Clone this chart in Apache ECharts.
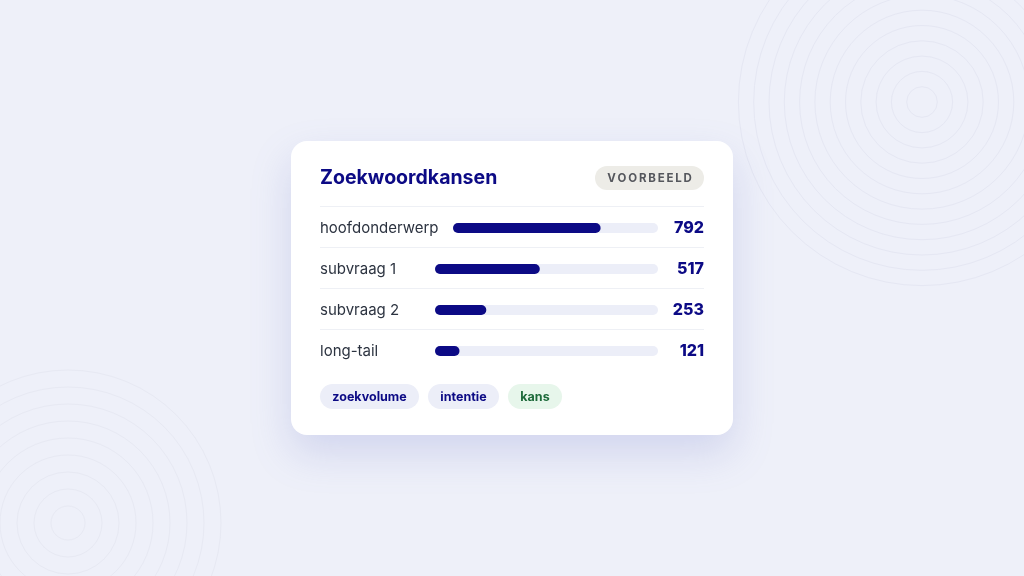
<!DOCTYPE html>
<html>
<head>
<meta charset="utf-8">
<script src="https://cdn.jsdelivr.net/npm/echarts@6/dist/echarts.min.js"></script>
<style>
html,body{margin:0;padding:0;background:#eef0f9;}
#c{width:1024px;height:576px;}
</style>
</head>
<body>
<div id="c"></div>
<script>
const title = 'Zoekwoordkansen';
const badge = 'VOORBEELD';
const categories = ['hoofdonderwerp', 'subvraag 1', 'subvraag 2', 'long-tail'];
const values = [792, 517, 253, 121];
const scaleMax = 1100;
const tags = ['zoekvolume', 'intentie', 'kans'];

const FONT = 'Inter, "Noto Sans", sans-serif';
const NAVY = '#0c0a85';
const rowCenters = [228, 269, 310, 351];
const gridLefts = [453, 435, 435, 435];
const trackRight = 658;
const valueRight = 704;
const labelLeft = 320;

const grids = [], xAxes = [], yAxes = [], series = [];
categories.forEach((cat, i) => {
  grids.push({ left: gridLefts[i], right: 1024 - trackRight, top: rowCenters[i] - 10, height: 20, containLabel: false });
  xAxes.push({ type: 'value', gridIndex: i, min: 0, max: scaleMax, show: false });
  yAxes.push({
    type: 'category', gridIndex: i, data: [cat], position: 'left',
    axisLine: { show: false }, axisTick: { show: false }, splitLine: { show: false },
    axisLabel: { align: 'left', margin: gridLefts[i] - labelLeft, color: '#2c3340', fontSize: 15, fontFamily: FONT }
  });
  yAxes.push({
    type: 'category', gridIndex: i, data: [String(values[i])], position: 'right',
    axisLine: { show: false }, axisTick: { show: false }, splitLine: { show: false },
    axisLabel: { align: 'right', margin: valueRight - trackRight, color: NAVY, fontSize: 16, fontWeight: 800, fontFamily: FONT }
  });
  series.push({
    type: 'bar', xAxisIndex: i, yAxisIndex: 2 * i, data: [values[i]], barWidth: 10, z: 5,
    showBackground: true, backgroundStyle: { color: '#eceef8', borderRadius: 5 },
    itemStyle: { color: NAVY, borderRadius: 5 }
  });
});

const graphic = [];
// background rings
for (let k = 1; k <= 12; k++) {
  graphic.push({ type: 'circle', z: -20, silent: true, shape: { cx: 922, cy: 102, r: 15.3 * k },
    style: { fill: 'none', stroke: '#e5e7f3', lineWidth: 1 } });
}
for (let k = 1; k <= 9; k++) {
  graphic.push({ type: 'circle', z: -20, silent: true, shape: { cx: 68, cy: 523, r: 17 * k },
    style: { fill: 'none', stroke: '#e7e9f3', lineWidth: 1 } });
}
// card
graphic.push({ type: 'rect', z: -10, silent: true, shape: { x: 291, y: 141, width: 442, height: 294, r: 16 },
  style: { fill: '#ffffff', shadowBlur: 40, shadowOffsetY: 18, shadowColor: 'rgba(110,120,200,0.22)' } });
// title
graphic.push({ type: 'text', z: 10, x: 320, y: 178, style: { text: title, fill: NAVY, font: 'bold 19.5px ' + FONT, textVerticalAlign: 'middle' } });
// badge
graphic.push({ type: 'rect', z: 8, shape: { x: 595, y: 166, width: 109, height: 24, r: 12 }, style: { fill: '#edece7' } });
graphic.push({ type: 'text', z: 10, x: 649.5, y: 178.5, style: { text: badge.split('').join('\u2009'), fill: '#55575d', font: 'bold 11.5px ' + FONT, textAlign: 'center', textVerticalAlign: 'middle' } });
// dividers
[206.5, 247.5, 288.5, 329.5].forEach(y => {
  graphic.push({ type: 'line', z: 8, shape: { x1: 320, y1: y, x2: 704, y2: y }, style: { stroke: '#eef0f5', lineWidth: 1 } });
});
// tags
const tagBoxes = [[320, 99], [428, 71], [508, 54]];
tags.forEach((t, i) => {
  const [x, w] = tagBoxes[i];
  const green = t === 'kans';
  graphic.push({ type: 'rect', z: 8, shape: { x: x, y: 384, width: w, height: 25, r: 12.5 }, style: { fill: green ? '#e7f6eb' : '#eceef8' } });
  graphic.push({ type: 'text', z: 10, x: x + w / 2, y: 397, style: { text: t, fill: green ? '#1d6a3a' : NAVY, font: 'bold 12.5px ' + FONT, textAlign: 'center', textVerticalAlign: 'middle' } });
});

const chart = echarts.init(document.getElementById('c'), null, { renderer: 'canvas' });
chart.setOption({
  backgroundColor: '#eef0f9',
  animation: false,
  grid: grids, xAxis: xAxes, yAxis: yAxes, series: series,
  graphic: graphic
});
</script>
</body>
</html>
